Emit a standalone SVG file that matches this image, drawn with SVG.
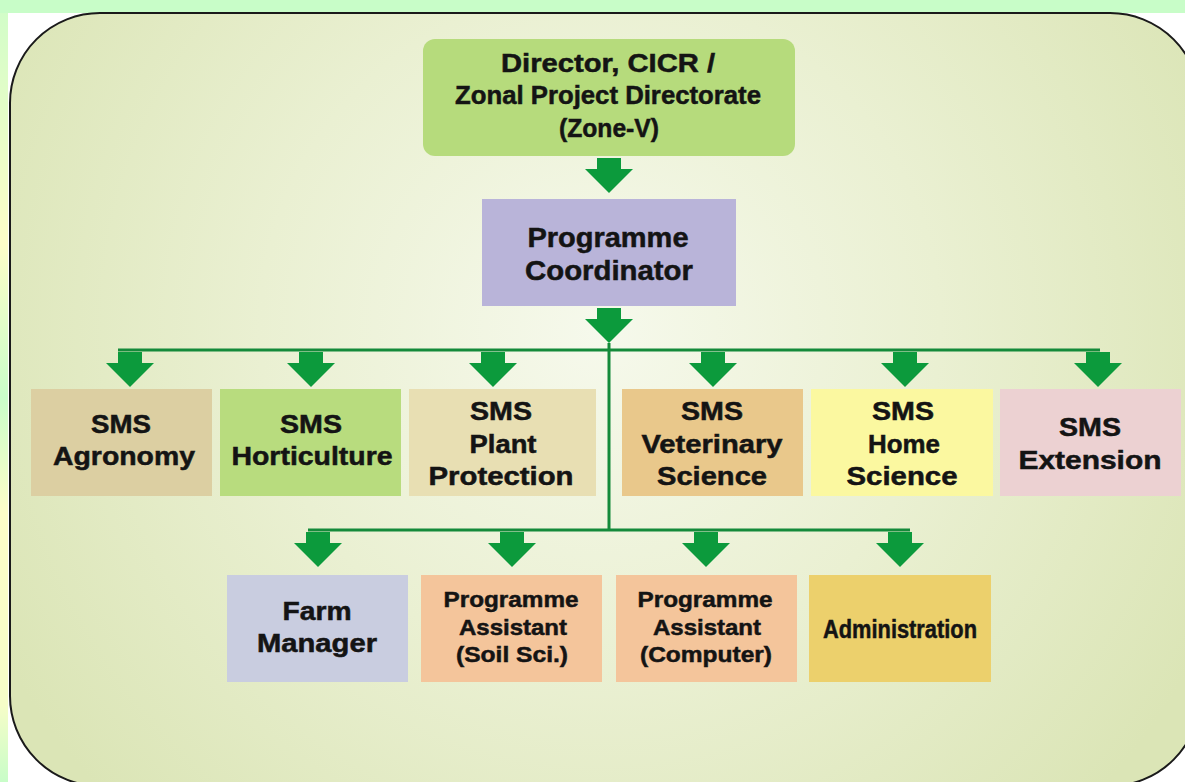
<svg xmlns="http://www.w3.org/2000/svg" width="1185" height="782" viewBox="0 0 1185 782">
<defs>
<radialGradient id="bg" gradientUnits="userSpaceOnUse" cx="600" cy="330" r="680">
<stop offset="0" stop-color="#f6f9ec"/>
<stop offset="0.5" stop-color="#eaf0d2"/>
<stop offset="1" stop-color="#dbe5b6"/>
</radialGradient>
<linearGradient id="strip" x1="0" y1="0" x2="0" y2="1">
<stop offset="0" stop-color="#d2fdc8"/>
<stop offset="0.3" stop-color="#fdfdc8"/>
<stop offset="0.5" stop-color="#cafdca"/>
<stop offset="0.65" stop-color="#fdfdc8"/>
<stop offset="0.9" stop-color="#f6fdc8"/>
<stop offset="1" stop-color="#c8fdc8"/>
</linearGradient>
<path id="arr" d="M-12,-35 H12 V-24 H24 L0,0 L-24,-24 H-12 Z"/>
</defs>
<style>
.t{font-family:"Liberation Sans",Arial,sans-serif;font-weight:bold;fill:#141414;stroke:#141414;stroke-width:0.5;text-anchor:middle}
.f25{font-size:25px}
.f27{font-size:27px}
.f22{font-size:22px}
.ar{fill:#0c9a3c}
.ln{stroke:#148a3a;stroke-width:3;fill:none}
</style>
<rect x="0" y="0" width="1185" height="782" fill="#ffffff"/>
<rect x="0" y="0" width="1185" height="13" fill="#c8fdc8"/>
<rect x="0" y="13" width="8" height="769" fill="url(#strip)"/>
<rect x="10" y="13" width="1190" height="773" rx="90" ry="90" fill="url(#bg)" stroke="#1a1a1a" stroke-width="2"/>

<g id="connectors">
<path class="ln" d="M118,350 H1100 M609,343 V530 M308,530 H910"/>
<use href="#arr" class="ar" x="609" y="193"/>
<use href="#arr" class="ar" x="609" y="343"/>
<use href="#arr" class="ar" x="130" y="387"/>
<use href="#arr" class="ar" x="311" y="387"/>
<use href="#arr" class="ar" x="493" y="387"/>
<use href="#arr" class="ar" x="713" y="387"/>
<use href="#arr" class="ar" x="905" y="387"/>
<use href="#arr" class="ar" x="1098" y="387"/>
<use href="#arr" class="ar" x="318" y="567"/>
<use href="#arr" class="ar" x="512" y="567"/>
<use href="#arr" class="ar" x="706" y="567"/>
<use href="#arr" class="ar" x="900" y="567"/>
</g>

<g id="director">
<rect x="423" y="39" width="372" height="117" rx="12" fill="#b6db7c"/>
<text class="t f25" x="608" y="72" textLength="214" lengthAdjust="spacingAndGlyphs">Director, CICR /</text>
<text class="t f25" x="608" y="104" textLength="306" lengthAdjust="spacingAndGlyphs">Zonal Project Directorate</text>
<text class="t f25" x="609" y="137" textLength="100" lengthAdjust="spacingAndGlyphs">(Zone-V)</text>
</g>

<g id="coordinator">
<rect x="482" y="199" width="254" height="107" fill="#b9b4d9"/>
<text class="t f27" x="608" y="247" textLength="161" lengthAdjust="spacingAndGlyphs">Programme</text>
<text class="t f27" x="609" y="280" textLength="168" lengthAdjust="spacingAndGlyphs">Coordinator</text>
</g>

<g id="sms-agronomy">
<rect x="31" y="389" width="181" height="107" fill="#dccfa2"/>
<text class="t f25" x="121" y="433" textLength="60" lengthAdjust="spacingAndGlyphs">SMS</text>
<text class="t f25" x="124" y="465" textLength="142" lengthAdjust="spacingAndGlyphs">Agronomy</text>
</g>

<g id="sms-horticulture">
<rect x="220" y="389" width="181" height="107" fill="#b8dc7e"/>
<text class="t f25" x="311" y="433" textLength="62" lengthAdjust="spacingAndGlyphs">SMS</text>
<text class="t f25" x="312" y="465" textLength="161" lengthAdjust="spacingAndGlyphs">Horticulture</text>
</g>

<g id="sms-plant-protection">
<rect x="409" y="389" width="187" height="107" fill="#e8dfb3"/>
<text class="t f25" x="501" y="420" textLength="62" lengthAdjust="spacingAndGlyphs">SMS</text>
<text class="t f25" x="503" y="453" textLength="67" lengthAdjust="spacingAndGlyphs">Plant</text>
<text class="t f25" x="501" y="485" textLength="145" lengthAdjust="spacingAndGlyphs">Protection</text>
</g>

<g id="sms-veterinary">
<rect x="622" y="389" width="181" height="107" fill="#e9c88b"/>
<text class="t f25" x="712" y="420" textLength="62" lengthAdjust="spacingAndGlyphs">SMS</text>
<text class="t f25" x="712" y="453" textLength="141" lengthAdjust="spacingAndGlyphs">Veterinary</text>
<text class="t f25" x="712" y="485" textLength="110" lengthAdjust="spacingAndGlyphs">Science</text>
</g>

<g id="sms-home-science">
<rect x="811" y="389" width="182" height="107" fill="#fbf8a0"/>
<text class="t f25" x="903" y="420" textLength="62" lengthAdjust="spacingAndGlyphs">SMS</text>
<text class="t f25" x="904" y="453" textLength="72" lengthAdjust="spacingAndGlyphs">Home</text>
<text class="t f25" x="902" y="485" textLength="111" lengthAdjust="spacingAndGlyphs">Science</text>
</g>

<g id="sms-extension">
<rect x="1000" y="389" width="181" height="107" fill="#ecd1d2"/>
<text class="t f25" x="1090" y="436" textLength="62" lengthAdjust="spacingAndGlyphs">SMS</text>
<text class="t f25" x="1090" y="469" textLength="143" lengthAdjust="spacingAndGlyphs">Extension</text>
</g>

<g id="farm-manager">
<rect x="227" y="575" width="181" height="107" fill="#c9cde0"/>
<text class="t f25" x="317" y="620" textLength="69" lengthAdjust="spacingAndGlyphs">Farm</text>
<text class="t f25" x="317" y="652" textLength="120" lengthAdjust="spacingAndGlyphs">Manager</text>
</g>

<g id="pa-soil">
<rect x="421" y="575" width="181" height="107" fill="#f4c59b"/>
<text class="t f22" x="511" y="607" textLength="135" lengthAdjust="spacingAndGlyphs">Programme</text>
<text class="t f22" x="513" y="635" textLength="108" lengthAdjust="spacingAndGlyphs">Assistant</text>
<text class="t f22" x="512" y="662" textLength="112" lengthAdjust="spacingAndGlyphs">(Soil Sci.)</text>
</g>

<g id="pa-computer">
<rect x="616" y="575" width="181" height="107" fill="#f4c59b"/>
<text class="t f22" x="705" y="607" textLength="135" lengthAdjust="spacingAndGlyphs">Programme</text>
<text class="t f22" x="707" y="635" textLength="108" lengthAdjust="spacingAndGlyphs">Assistant</text>
<text class="t f22" x="706" y="662" textLength="132" lengthAdjust="spacingAndGlyphs">(Computer)</text>
</g>

<g id="administration">
<rect x="809" y="575" width="182" height="107" fill="#ecd06c"/>
<text class="t f25" x="900" y="638" textLength="154" lengthAdjust="spacingAndGlyphs">Administration</text>
</g>
</svg>
